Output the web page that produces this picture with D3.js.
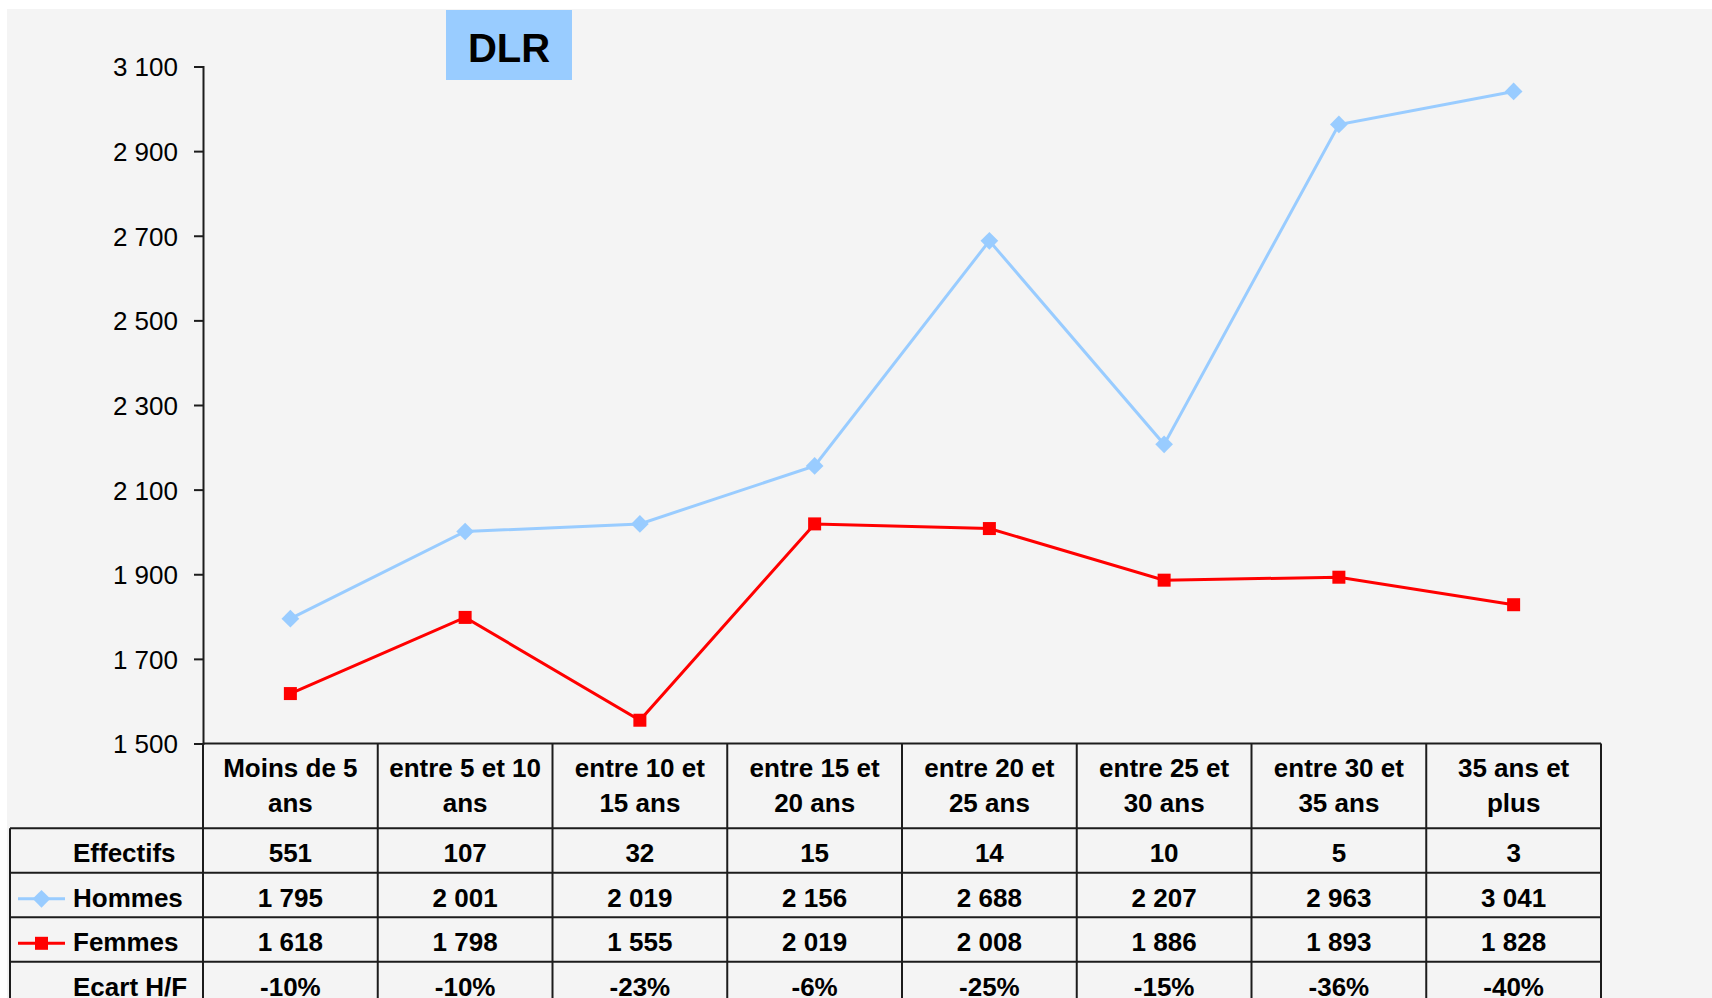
<!DOCTYPE html>
<html>
<head>
<meta charset="utf-8">
<script src="https://cdn.jsdelivr.net/npm/d3@7"></script>
<style>
  html, body { margin: 0; padding: 0; background: #ffffff; }
  svg { display: block; }
  text { font-family: "Liberation Sans", Arial, sans-serif; fill: #000; }
</style>
</head>
<body>
<svg id="chart" width="1712" height="998"></svg>
<script>
// Salaire moyen par ancienneté — DLR
const categories = [
  ["Moins de 5", "ans"],
  ["entre 5 et 10", "ans"],
  ["entre 10 et", "15 ans"],
  ["entre 15 et", "20 ans"],
  ["entre 20 et", "25 ans"],
  ["entre 25 et", "30 ans"],
  ["entre 30 et", "35 ans"],
  ["35 ans et", "plus"]
];
const effectifs = [551, 107, 32, 15, 14, 10, 5, 3];
const hommes = [1795, 2001, 2019, 2156, 2688, 2207, 2963, 3041];
const femmes = [1618, 1798, 1555, 2019, 2008, 1886, 1893, 1828];
const ecart = ["-10%", "-10%", "-23%", "-6%", "-25%", "-15%", "-36%", "-40%"];
const yTicks = [1500, 1700, 1900, 2100, 2300, 2500, 2700, 2900, 3100];
const title = "DLR";

const W = 1712, H = 998;
const plotLeft = 203, plotRight = 1601, plotTop = 66.5, plotBottom = 743.5;
const headerH = 84.8, rowH = 44.5, tableLeft = 10;
const blue = "#99ccff", red = "#ff0000", ink = "#1c1c1c";

const fr = d3.formatLocale({ decimal: ",", thousands: " ", grouping: [3], currency: ["", " €"] });
const fmt = fr.format(",d");

const svg = d3.select("#chart");

// panel background
svg.append("rect").attr("x", 7).attr("y", 9).attr("width", W - 7).attr("height", H - 9).attr("fill", "#f4f4f4");

const x = d3.scaleBand().domain(d3.range(categories.length)).range([plotLeft, plotRight]).padding(0);
const y = d3.scaleLinear().domain([1500, 3100]).range([plotBottom, plotTop]);
const cx = i => x(i) + x.bandwidth() / 2;

// y axis
const yAxis = d3.axisLeft(y).tickValues(yTicks).tickSize(9).tickPadding(16).tickFormat(fmt);
const ga = svg.append("g").attr("transform", `translate(${plotLeft},0)`).call(yAxis);
ga.select(".domain").attr("stroke", ink).attr("stroke-width", 2);
ga.selectAll(".tick line").attr("stroke", ink).attr("stroke-width", 2);
ga.selectAll(".tick text").attr("font-size", 26).attr("font-family", '"Liberation Sans", Arial, sans-serif').attr("fill", "#000").attr("dy", "0.36em");

// title box
const tb = svg.append("g");
tb.append("rect").attr("x", 446).attr("y", 10).attr("width", 126).attr("height", 70).attr("fill", blue);
tb.append("text").attr("x", 509).attr("y", 61.5).attr("text-anchor", "middle").attr("font-size", 40).attr("font-weight", "bold").text(title);

// series
const line = d3.line().x((d, i) => cx(i)).y(d => y(d));
svg.append("path").datum(hommes).attr("d", line).attr("fill", "none").attr("stroke", blue).attr("stroke-width", 3);
svg.append("path").datum(femmes).attr("d", line).attr("fill", "none").attr("stroke", red).attr("stroke-width", 3);

const diamond = d3.symbol().type(d3.symbolDiamond2).size(200);
svg.append("g").selectAll("path").data(hommes).join("path")
  .attr("transform", (d, i) => `translate(${cx(i)},${y(d)})`)
  .attr("d", diamond).attr("fill", blue);
svg.append("g").selectAll("rect").data(femmes).join("rect")
  .attr("x", (d, i) => cx(i) - 6.5).attr("y", d => y(d) - 6.5)
  .attr("width", 13).attr("height", 13).attr("fill", red);

// data table
const tbl = svg.append("g");
const rowsTop = plotBottom + headerH;
const rows = [
  { label: "Effectifs", vals: effectifs.map(String) },
  { label: "Hommes", vals: hommes.map(fmt), color: blue, marker: "diamond" },
  { label: "Femmes", vals: femmes.map(fmt), color: red, marker: "square" },
  { label: "Ecart H/F", vals: ecart }
];
const tableBottom = rowsTop + rowH * rows.length;

// header labels
categories.forEach((c, i) => {
  c.forEach((ln, k) => {
    tbl.append("text").attr("x", cx(i)).attr("y", plotBottom + 33.8 + k * 34.5)
      .attr("text-anchor", "middle").attr("font-size", 26).attr("font-weight", "bold").text(ln);
  });
});

rows.forEach((r, j) => {
  const ty = rowsTop + j * rowH;
  tbl.append("text").attr("x", 73).attr("y", ty + 34).attr("font-size", 26).attr("font-weight", "bold").text(r.label);
  r.vals.forEach((v, i) => {
    tbl.append("text").attr("x", cx(i)).attr("y", ty + 34).attr("text-anchor", "middle")
      .attr("font-size", 26).attr("font-weight", "bold").text(v);
  });
  if (r.color) {
    const ly = ty + 26;
    tbl.append("line").attr("x1", 18).attr("x2", 65).attr("y1", ly).attr("y2", ly).attr("stroke", r.color).attr("stroke-width", 3);
    if (r.marker === "diamond") {
      tbl.append("path").attr("transform", `translate(41.5,${ly})`).attr("d", diamond).attr("fill", r.color);
    } else {
      tbl.append("rect").attr("x", 35).attr("y", ly - 6.5).attr("width", 13).attr("height", 13).attr("fill", r.color);
    }
  }
});

// grid lines
const g = tbl.append("g").attr("stroke", ink).attr("stroke-width", 2).attr("fill", "none");
g.append("line").attr("x1", plotLeft).attr("x2", plotRight).attr("y1", plotBottom).attr("y2", plotBottom);
d3.range(rows.length + 1).forEach(j => {
  const yy = rowsTop + j * rowH;
  g.append("line").attr("x1", tableLeft).attr("x2", plotRight).attr("y1", yy).attr("y2", yy);
});
g.append("line").attr("x1", tableLeft).attr("x2", tableLeft).attr("y1", rowsTop).attr("y2", tableBottom);
d3.range(categories.length + 1).forEach(i => {
  const xx = i < categories.length ? x(i) : plotRight;
  g.append("line").attr("x1", xx).attr("x2", xx).attr("y1", plotBottom).attr("y2", tableBottom);
});
</script>
</body>
</html>
